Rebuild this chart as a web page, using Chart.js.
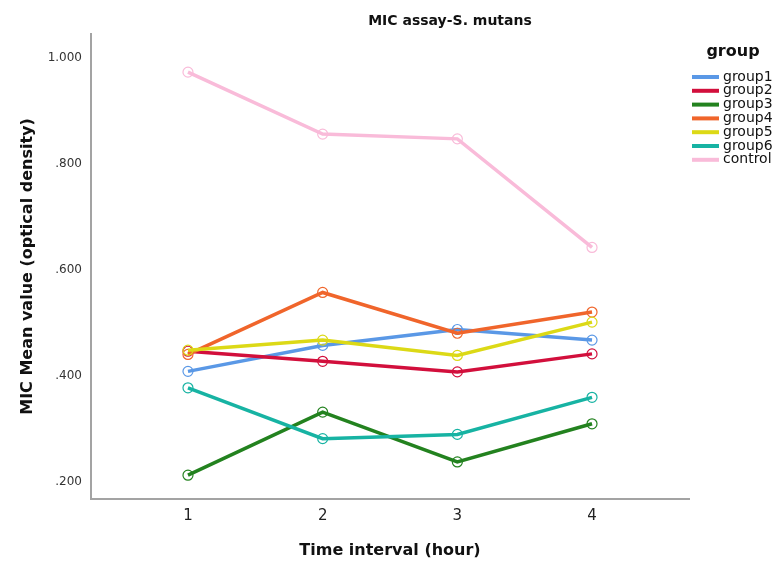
<!DOCTYPE html>
<html>
<head>
<meta charset="utf-8">
<script src="https://cdn.jsdelivr.net/npm/chart.js@4.4.1/dist/chart.umd.min.js"></script>
<style>
  html, body { margin: 0; padding: 0; background: #fff; }
  #wrap { width: 775px; height: 562px; position: relative; }
</style>
</head>
<body>
<div id="wrap"><canvas id="micChart" width="775" height="562"></canvas></div>
<script>
// Time points on the x axis
const timeIntervals = [1, 2, 3, 4];
const yTickValues = [0.2, 0.4, 0.6, 0.8, 1.0];

// MIC mean optical density per group
const group1 = [0.408, 0.457, 0.487, 0.467];
const group2 = [0.446, 0.427, 0.407, 0.441];
const group3 = [0.212, 0.331, 0.237, 0.309];
const group4 = [0.440, 0.557, 0.480, 0.520];
const group5 = [0.448, 0.467, 0.438, 0.501];
const group6 = [0.377, 0.281, 0.289, 0.359];
const control = [0.973, 0.856, 0.847, 0.642];

const groupNames = ["group1", "group2", "group3", "group4", "group5", "group6", "control"];
const groupValues = [group1, group2, group3, group4, group5, group6, control];
const groupColors = ["#5a98e6", "#d20f3c", "#23821f", "#f0652b", "#dcd916", "#17b3a3", "#f9bbd9"];

const FONT = "'DejaVu Sans', sans-serif";

// title + legend drawn on top of the canvas
const extrasPlugin = {
    id: "extras",
    afterDraw(chart) {
        const ctx = chart.ctx;
        ctx.save();
        ctx.fillStyle = "#111";
        ctx.textAlign = "center";
        ctx.textBaseline = "middle";
        ctx.font = "bold 14px " + FONT;
        ctx.fillText("MIC assay-S. mutans", 450, 21);

        // legend
        ctx.font = "bold 16px " + FONT;
        ctx.fillText("group", 733, 52);
        ctx.font = "14px " + FONT;
        ctx.textAlign = "left";
        chart.data.datasets.forEach(function(ds, i) {
            const y = 77 + i * 13.8;
            ctx.strokeStyle = ds.borderColor;
            ctx.lineWidth = 4;
            ctx.beginPath();
            ctx.moveTo(692, y);
            ctx.lineTo(719, y);
            ctx.stroke();
            ctx.fillStyle = "#111";
            ctx.fillText(ds.label, 723, y);
        });
        ctx.restore();
    }
};

const datasets = groupNames.map(function(name, i) {
    return {
        label: name,
        data: groupValues[i],
        borderColor: groupColors[i],
        borderWidth: 3.5,
        pointRadius: 5,
        pointBorderWidth: 1.2,
        pointBorderColor: groupColors[i],
        pointBackgroundColor: "rgba(255,255,255,0)",
        tension: 0,
        order: groupNames.length - i
    };
});

new Chart(document.getElementById("micChart").getContext("2d"), {
    type: "line",
    data: { labels: timeIntervals, datasets: datasets },
    options: {
        responsive: false,
        animation: false,
        layout: { padding: { top: 34, right: 86, bottom: 0, left: 0 } },
        plugins: {
            legend: { display: false },
            title: { display: false },
            tooltip: { enabled: false }
        },
        scales: {
            x: {
                type: "linear",
                min: 0.28,
                max: 4.72,
                afterBuildTicks: function(s) { s.ticks = timeIntervals.map(v => ({ value: v })); },
                afterFit: function(s) { s.height = 63; },
                grid: { display: false, drawTicks: false },
                border: { display: true, color: "#a3a3a3", width: 2 },
                ticks: {
                    padding: 8,
                    color: "#222",
                    font: { family: FONT, size: 15 },
                    callback: v => String(v)
                },
                title: {
                    display: true,
                    text: "Time interval (hour)",
                    color: "#111",
                    font: { family: FONT, size: 16, weight: "bold" },
                    padding: { top: 0, bottom: 2 }
                }
            },
            y: {
                min: 0.167,
                max: 1.045,
                afterBuildTicks: function(s) { s.ticks = yTickValues.map(v => ({ value: v })); },
                afterFit: function(s) { s.width = 91; },
                grid: { display: false, drawTicks: false },
                border: { display: true, color: "#a3a3a3", width: 2 },
                ticks: {
                    padding: 9,
                    color: "#333",
                    font: { family: FONT, size: 12 },
                    callback: v => v.toFixed(3).replace(/^0/, "")
                },
                title: {
                    display: true,
                    text: "MIC Mean value (optical density)",
                    color: "#111",
                    font: { family: FONT, size: 16, weight: "bold" },
                    padding: { top: 18, bottom: 0 }
                }
            }
        }
    },
    plugins: [extrasPlugin]
});
</script>
</body>
</html>
